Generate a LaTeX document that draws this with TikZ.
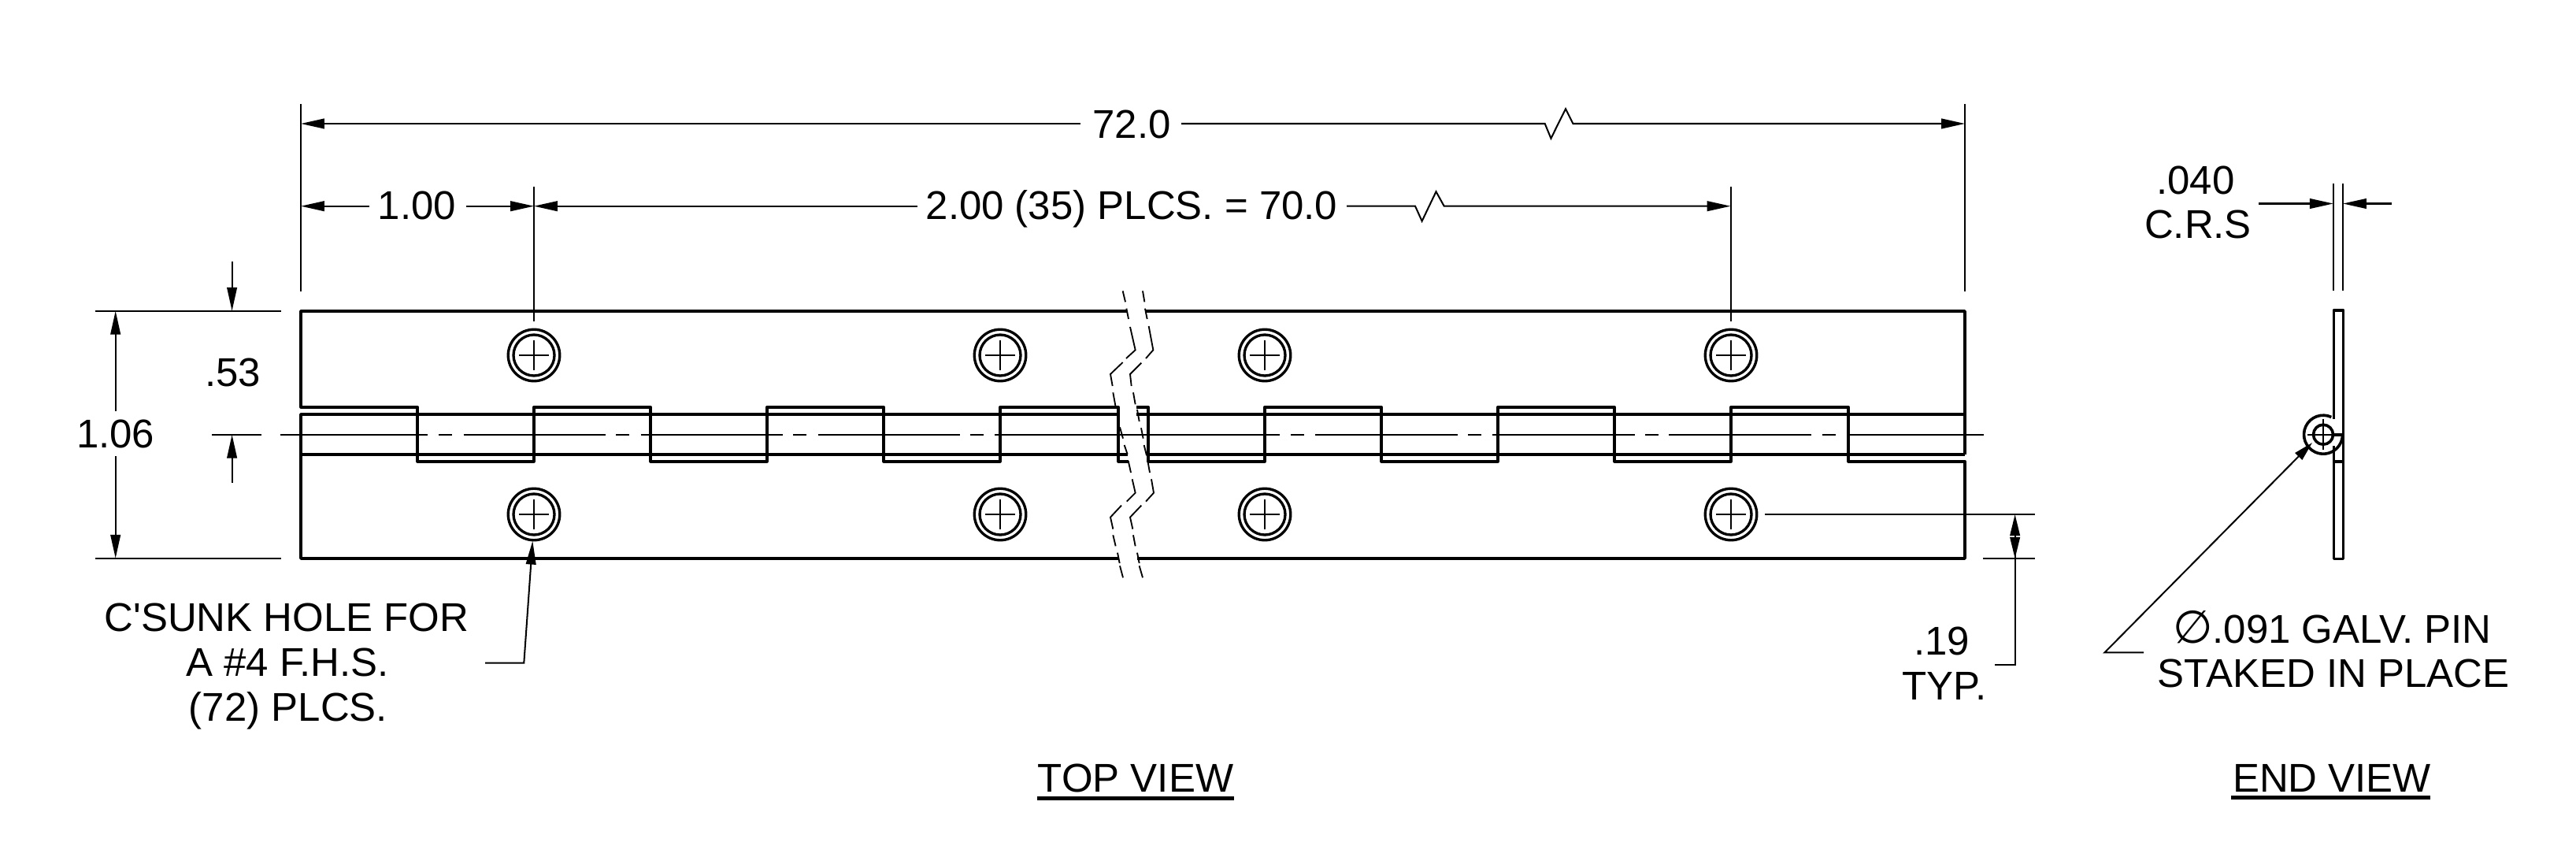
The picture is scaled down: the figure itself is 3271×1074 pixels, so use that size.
\documentclass[tikz,border=0pt]{standalone}
\usepackage{fontspec}
\setmainfont{Liberation Sans}[Ligatures=TeXOff]
\newfontfamily\symfont{DejaVu Sans}
\usetikzlibrary{arrows.meta,calc}
\tikzset{
  thinln/.style={line width=1.15pt,line cap=butt},
  thickln/.style={line width=2.05pt,line join=round,line cap=butt},
  breakln/.style={line width=1.05pt,line join=miter},
  dimarrow/.style={thinln,-{Triangle[length=17pt,width=7.2pt]}},
  shortarrow/.style={thinln,-{Triangle[length=15.5pt,width=7.2pt]}},
  smallarrow/.style={thinln,-{Triangle[length=14pt,width=7pt]}},
  lbl/.style={inner sep=0pt,outer sep=0pt,anchor=base,font=\fontsize{29}{33}\selectfont},
}
\begin{document}
\begin{tikzpicture}[x=0.02cm,y=-0.02cm]
\useasboundingbox (0,0) rectangle (3271,1074);
% ---- key coordinates
\coordinate (L) at (382,157);
\coordinate (R) at (2495,157);
\coordinate (H1) at (678,261.7);
\coordinate (H4) at (2197.5,261.7);
\coordinate (L2) at (382,261.7);
% ---- extension lines
\draw[thinln] (382,132) -- (382,370);
\draw[thinln] (2495,132) -- (2495,370);
\draw[thinln] (678,237) -- (678,408);
\draw[thinln] (2197.5,237) -- (2197.5,408);
\draw[thinln] (121,394.7) -- (357,394.7);
\draw[thinln] (121,708.7) -- (357,708.7);
% ---- dimension texts
\node[lbl] (d72) at (1437,175.5) {72.0};
\node[lbl] (d100) at (529.3,279) {1.00};
\node[lbl] (d200) at (1437,279) {2.00 (35) PLCS. = 70.0};
\node[lbl] (d53) at (295.6,490.6) {.53};
\node[lbl] (d106) at (146.7,568) {1.06};
\node[lbl] (d19) at (2465.5,831.4) {.19};
\node[lbl] (dtyp) at (2469,888) {TYP.};
\node[lbl] (d040) at (2788,246.6) {.040};
\node[lbl] (dcrs) at (2791,303) {C.R.S};
\node[lbl,anchor=base west] (dpin) at (2759,816) {{\symfont\fontsize{33}{33}\selectfont ∅}.091 GALV. PIN};
\node[lbl] (dstk) at (2963,872.4) {STAKED IN PLACE};
\node[lbl] (dcs1) at (364,801.7) {C'SUNK HOLE FOR};
\node[lbl] (dcs2) at (365,858) {A \#4 F.H.S.};
\node[lbl] (dcs3) at (366,915) {(72) PLCS.};
\node[lbl] (vtop) at (1442,1005.5) {TOP VIEW};
\node[lbl] (vend) at (2961,1005.2) {END VIEW};
\draw[line width=2.85pt] (1317,1013) -- (1567,1013);
\draw[line width=2.85pt] (2833,1012.3) -- (3086,1012.3);
% ---- top dimension 72.0
\draw[dimarrow] (1372,157) -- (L);
\draw[dimarrow] (1500,157) -- (1961.7,157) -- (1969.4,175.7) -- (1988,138.3) -- (1997.4,157) -- (R);
% ---- dimensions 1.00 and 2.00
\draw[dimarrow] (469,261.7) -- (L2);
\draw[dimarrow] (592,261.7) -- (H1);
\draw[dimarrow] (1164.5,261.7) -- (H1);
\draw[dimarrow] (1710,261.7) -- (1797,261.7) -- (1805.6,280.7) -- (1823.5,243.3) -- (1833.7,261.7) -- (H4);
% ---- 1.06
\draw[dimarrow] (146.7,522) -- (146.7,394.7);
\draw[dimarrow] (146.7,579) -- (146.7,708.7);
% ---- .53
\draw[dimarrow] (294.6,332) -- (294.6,394.7);
\draw[dimarrow] (294.6,613) -- (294.6,551.8);
% ---- centre line
\draw[thinln] (269,551.8) -- (332,551.8);
\draw[thinln] (356,551.8) -- (543,551.8);
\foreach \s in {813.6,1038.6} \draw[thinln] (\s,551.8) -- ++(180,0);
\draw[thinln] (588.6,551.8) -- (768.6,551.8);
\foreach \s in {557,782,1007,1232,1639,1864,2089,2314} \draw[thinln] (\s,551.8) -- ++(17,0);
\draw[thinln] (1263,551.8) -- (1625,551.8);
\foreach \s in {1670,1895,2119} \draw[thinln] (\s,551.8) -- ++(181,0);
\draw[thinln] (2345,551.8) -- (2519,551.8);
% ---- .19 TYP.
\coordinate (t19) at (2558.6,653);
\coordinate (b19) at (2558.6,709);
\coordinate (m19) at (2558.6,681);
\draw[thinln] (2241,653) -- (2584,653);
\draw[thinln] (2518,709) -- (2584,709);
\draw[shortarrow] (m19) -- (t19);
\draw[shortarrow] (m19) -- (b19);
\draw[thinln] (2533,844) -- (2558.6,844) -- (m19);
% ---- hinge outline
\draw[thickln] (2495,577) -- (2495,395) -- (1455,395);
\draw[thickln] (1431,395) -- (382,395) -- (382,516.7) -- (530,516.7) -- (530,585.7) -- (678,585.7) -- (678,516.7) -- (826,516.7) -- (826,585.7) -- (974,585.7) -- (974,516.7) -- (1122,516.7) -- (1122,585.7) -- (1270,585.7) -- (1270,516.7) -- (1420,516.7) -- (1420,585.7) -- (1433,585.7);
\draw[thickln] (1443,516.7) -- (1458,516.7) -- (1458,585.7) -- (1606,585.7) -- (1606,516.7) -- (1754,516.7) -- (1754,585.7) -- (1902,585.7) -- (1902,516.7) -- (2050,516.7) -- (2050,585.7) -- (2198,585.7) -- (2198,516.7) -- (2347,516.7) -- (2347,585.7) -- (2495,585.7) -- (2495,709) -- (1444,709);
\draw[thickln] (1421,709) -- (382,709) -- (382,526) -- (1420,526);
\draw[thickln] (1443,526) -- (2495,526);
\draw[thickln] (382,577) -- (1432,577);
\draw[thickln] (1457,577) -- (2495,577);
% ---- holes
\foreach \hx in {678,1270,1606,2198} \foreach \hy in {451,653} {
  \draw[line width=1.9pt] (\hx,\hy) circle[radius=0.655cm];
  \draw[line width=1.9pt] (\hx,\hy) circle[radius=0.52cm];
  \draw[thinln] (\hx-19,\hy) -- (\hx+19,\hy);
  \draw[thinln] (\hx,\hy-19) -- (\hx,\hy+19);
}
% ---- leader to hole
\coordinate (holetip) at (676.3,686.7);
\draw[dimarrow] (616,841.7) -- (665.3,841.7) -- (holetip);
% ---- break lines (coordinates read from a 3x crop)
\begin{scope}[shift={(1250,340)},x=0.0066667cm,y=-0.0066667cm]
\foreach \seg in {
 {(527,88) -- (537,130)},{(541,155) -- (549,195)},{(555,225) -- (575,313) -- (540,345)},
 {(527,360) -- (480,405) -- (488,450)},{(490,475) -- (500,530)},{(506,552) -- (512,590)},
 {(516,607) -- (528,650)},{(533,675) -- (545,710)},{(548,735) -- (558,780)},
 {(563,805) -- (575,857) -- (542,890)},{(522,905) -- (480,950) -- (490,995)},
 {(490,1018) -- (500,1060)},{(507,1085) -- (515,1125)},{(516,1135) -- (528,1180)},
 {(603,88) -- (610,130)},{(612,155) -- (620,195)},{(626,222) -- (643,313) -- (615,345)},
 {(598,362) -- (555,405) -- (560,450)},{(567,475) -- (575,520)},{(582,540) -- (590,585)},
 {(597,610) -- (605,650)},{(608,675) -- (618,715)},{(622,735) -- (630,780)},
 {(636,805) -- (645,857) -- (615,890)},{(598,905) -- (555,950) -- (565,995)},
 {(567,1018) -- (575,1060)},{(582,1085) -- (590,1125)},{(590,1135) -- (603,1180)}} {
  \draw[breakln] \seg;
}
\end{scope}
% ---- end view
\draw[thinln] (2962.8,232.8) -- (2962.8,369);
\draw[thinln] (2975,232.8) -- (2975,369);
\draw[dimarrow] (2868,258.5) -- (2962.8,258.5);
\draw[dimarrow] (3036.7,258.5) -- (2975,258.5);
\draw[thickln] (2963.3,532) -- (2963.3,394) -- (2975.6,394) -- (2975.6,709.4) -- (2963.3,709.4) -- (2963.3,566);
\draw[thickln] (2963.3,551.7) -- (2975.6,551.7);
\draw[thickln] (2963.3,586) -- (2975.6,586);
\coordinate (pin) at (2950,551.7);
\draw[thickln] ($(pin)+(65:0.49cm)$) arc[start angle=65,end angle=360,radius=0.49cm];
\draw[thickln] (pin) circle[radius=0.25cm];
\draw[thinln] (2930,551.7) -- (2970,551.7);
\draw[thinln] (2950,531.7) -- (2950,571);
\coordinate (pintip) at (2936,562);
\draw[smallarrow] (2722,828.3) -- (2672.5,828.3) -- (pintip);
\end{tikzpicture}
\end{document}
